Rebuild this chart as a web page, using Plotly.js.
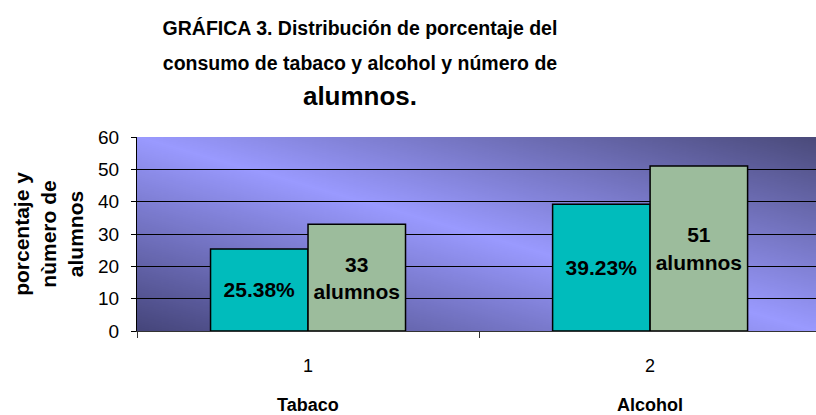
<!DOCTYPE html>
<html>
<head>
<meta charset="utf-8">
<script src="https://cdn.plot.ly/plotly-3.0.1.min.js"></script>
<style>
  html, body { margin: 0; padding: 0; background: #fff; overflow: hidden; }
</style>
</head>
<body>
<div id="chart" style="width:816px;height:415px;"></div>
<script>
const categories = ['1', '2'];
const groupLabels = ['Tabaco', 'Alcohol'];
const porcentaje = [25.38, 39.23];
const alumnos = [33, 51];
const yTicks = [0, 10, 20, 30, 40, 50, 60];

// diagonal gradient for the plot background (Plotly has no gradient bg)
function bgGradient() {
  const c = document.createElement('canvas');
  c.width = 200; c.height = 200;
  const g = c.getContext('2d');
  const grad = g.createLinearGradient(0, 200, 200, 0);
  grad.addColorStop(0, '#45457a');
  grad.addColorStop(0.5, '#9a9aff');
  grad.addColorStop(1, '#4a4a7a');
  g.fillStyle = grad;
  g.fillRect(0, 0, 200, 200);
  return c.toDataURL();
}

const labelFont = { family: 'Liberation Sans, Arial, sans-serif', size: 21, color: '#000', weight: 'bold' };

const tracePct = {
  type: 'bar',
  x: categories,
  y: porcentaje,
  text: porcentaje.map(v => v.toFixed(2) + '%'),
  textposition: 'inside',
  insidetextanchor: 'middle',
  textfont: labelFont,
  marker: { color: '#00bcbc', line: { color: '#000', width: 1.5 } },
  hoverinfo: 'none',
  showlegend: false
};

const traceAlum = {
  type: 'bar',
  x: categories,
  y: alumnos,
  text: alumnos.map(v => v + '<br>alumnos'),
  textposition: 'inside',
  insidetextanchor: 'middle',
  textfont: labelFont,
  marker: { color: '#9cbc9c', line: { color: '#000', width: 1.5 } },
  hoverinfo: 'none',
  showlegend: false
};

// plot runs past the right edge of the window, as in the original
const xRange = [-0.5, 1.485];

const titleLine = s => '<span style="font-size:19.5px">' + s + '</span>';

const layout = {
  width: 816,
  height: 415,
  margin: { l: 137, r: 0, t: 137, b: 84 },
  paper_bgcolor: '#fff',
  plot_bgcolor: 'rgba(0,0,0,0)',
  font: { family: 'Liberation Sans, Arial, sans-serif', color: '#000' },
  barmode: 'group',
  bargap: 0.43,
  bargroupgap: 0,
  title: {
    text: titleLine('GRÁFICA 3. Distribución de porcentaje del') + '<br>' +
          titleLine('consumo de tabaco y alcohol y número de') + '<br>' +
          '<span style="font-size:26px">alumnos.</span>',
    font: { family: 'Liberation Sans, Arial, sans-serif', size: 27, weight: 'bold', color: '#000' },
    xref: 'container', x: 360 / 816, xanchor: 'center',
    yref: 'container', y: 1 - 35 / 415, yanchor: 'top'
  },
  xaxis: {
    type: 'category',
    range: xRange,
    showline: true,
    linecolor: '#333',
    linewidth: 1,
    ticks: 'outside',
    tickson: 'boundaries',
    ticklen: 6,
    tickcolor: '#333',
    ticklabelstandoff: 18,
    tickfont: { size: 18 },
    showgrid: false,
    zeroline: false,
    fixedrange: true
  },
  xaxis2: {
    overlaying: 'x',
    side: 'top',
    range: xRange,
    showline: true,
    linecolor: '#b4b4b4',
    linewidth: 2,
    showticklabels: false,
    ticks: '',
    showgrid: false,
    zeroline: false
  },
  yaxis: {
    range: [0, 60],
    tickvals: yTicks,
    showline: true,
    linecolor: '#000',
    linewidth: 1,
    ticks: 'outside',
    ticklen: 5,
    tickcolor: '#000',
    ticklabelstandoff: 8,
    tickfont: { size: 19 },
    showgrid: true,
    gridcolor: '#000',
    gridwidth: 1,
    zeroline: false,
    fixedrange: true,
    title: {
      text: 'porcentaje y<br>nùmero de<br>alumnos',
      font: { size: 21, weight: 'bold' },
      standoff: 8
    }
  },
  annotations: groupLabels.map((t, i) => ({
    text: t,
    xref: 'x', x: i,
    yref: 'paper', y: -0.38,
    yanchor: 'middle',
    showarrow: false,
    font: { size: 18, weight: 'bold' }
  })),
  images: [{
    source: bgGradient(),
    xref: 'paper', yref: 'paper',
    x: 0, y: 1, sizex: 1, sizey: 1,
    xanchor: 'left', yanchor: 'top',
    sizing: 'stretch',
    layer: 'below'
  }]
};

Plotly.newPlot('chart', [tracePct, traceAlum], layout, { displayModeBar: false, staticPlot: true });
</script>
</body>
</html>
